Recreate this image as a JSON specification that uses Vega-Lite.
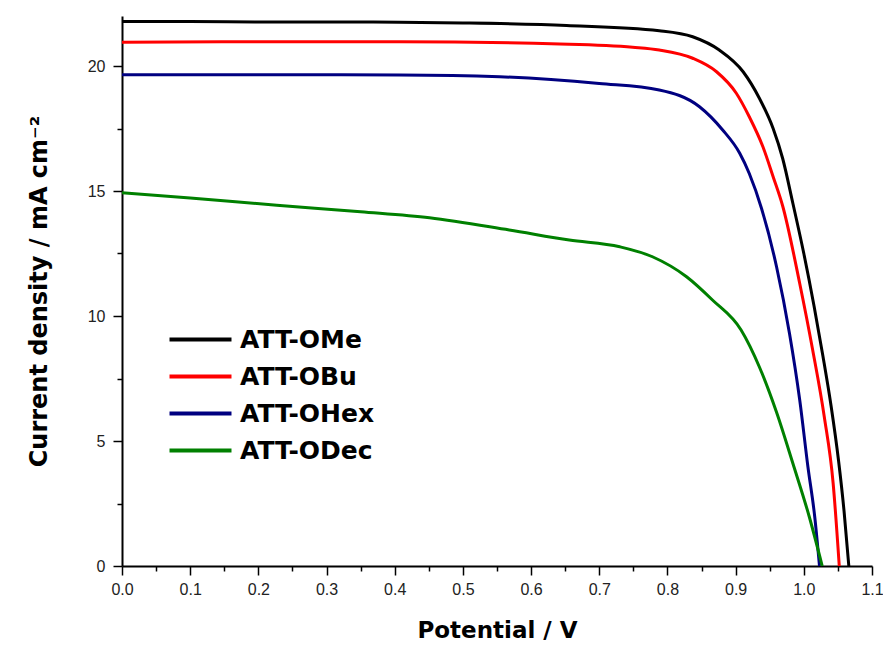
{
  "$schema": "https://vega.github.io/schema/vega-lite/v6.json",
  "width": 750,
  "height": 550,
  "autosize": "none",
  "padding": {"left": 122, "top": 16, "right": 11, "bottom": 84},
  "background": "white",
  "config": {
    "view": {"stroke": null},
    "font": "Liberation Sans",
    "axis": {"grid": false, "labelFlush": false, "labelOverlap": false, "domainColor": "black", "domainWidth": 2, "tickColor": "black", "tickWidth": 1.5, "labelFont": "Liberation Sans", "labelFontSize": 16, "labelColor": "#222", "titleFont": "DejaVu Sans", "titleFontWeight": "bold", "titleColor": "black"}
  },
  "data": {"values": [
    {"V": 0, "J": 21.78, "s": "ATT-OMe"},
    {"V": 0.1, "J": 21.78, "s": "ATT-OMe"},
    {"V": 0.2, "J": 21.76, "s": "ATT-OMe"},
    {"V": 0.3, "J": 21.76, "s": "ATT-OMe"},
    {"V": 0.407, "J": 21.75, "s": "ATT-OMe"},
    {"V": 0.5, "J": 21.72, "s": "ATT-OMe"},
    {"V": 0.652, "J": 21.62, "s": "ATT-OMe"},
    {"V": 0.788, "J": 21.41, "s": "ATT-OMe"},
    {"V": 0.837, "J": 21.17, "s": "ATT-OMe"},
    {"V": 0.876, "J": 20.64, "s": "ATT-OMe"},
    {"V": 0.911, "J": 19.77, "s": "ATT-OMe"},
    {"V": 0.935, "J": 18.7, "s": "ATT-OMe"},
    {"V": 0.955, "J": 17.5, "s": "ATT-OMe"},
    {"V": 0.969, "J": 16.3, "s": "ATT-OMe"},
    {"V": 0.984, "J": 14.5, "s": "ATT-OMe"},
    {"V": 1.0, "J": 12.5, "s": "ATT-OMe"},
    {"V": 1.015, "J": 10.4, "s": "ATT-OMe"},
    {"V": 1.028, "J": 8.4, "s": "ATT-OMe"},
    {"V": 1.04, "J": 6.4, "s": "ATT-OMe"},
    {"V": 1.051, "J": 4.2, "s": "ATT-OMe"},
    {"V": 1.059, "J": 2.2, "s": "ATT-OMe"},
    {"V": 1.066, "J": 0, "s": "ATT-OMe"},
    {"V": 0, "J": 20.95, "s": "ATT-OBu"},
    {"V": 0.2, "J": 20.97, "s": "ATT-OBu"},
    {"V": 0.407, "J": 20.97, "s": "ATT-OBu"},
    {"V": 0.642, "J": 20.88, "s": "ATT-OBu"},
    {"V": 0.749, "J": 20.75, "s": "ATT-OBu"},
    {"V": 0.788, "J": 20.64, "s": "ATT-OBu"},
    {"V": 0.837, "J": 20.31, "s": "ATT-OBu"},
    {"V": 0.872, "J": 19.77, "s": "ATT-OBu"},
    {"V": 0.901, "J": 18.91, "s": "ATT-OBu"},
    {"V": 0.92, "J": 17.97, "s": "ATT-OBu"},
    {"V": 0.94, "J": 16.77, "s": "ATT-OBu"},
    {"V": 0.955, "J": 15.57, "s": "ATT-OBu"},
    {"V": 0.969, "J": 14.4, "s": "ATT-OBu"},
    {"V": 0.994, "J": 11.3, "s": "ATT-OBu"},
    {"V": 1.013, "J": 8.64, "s": "ATT-OBu"},
    {"V": 1.03, "J": 5.97, "s": "ATT-OBu"},
    {"V": 1.043, "J": 3.31, "s": "ATT-OBu"},
    {"V": 1.052, "J": 0, "s": "ATT-OBu"},
    {"V": 0, "J": 19.65, "s": "ATT-OHex"},
    {"V": 0.2, "J": 19.65, "s": "ATT-OHex"},
    {"V": 0.407, "J": 19.64, "s": "ATT-OHex"},
    {"V": 0.554, "J": 19.57, "s": "ATT-OHex"},
    {"V": 0.7, "J": 19.3, "s": "ATT-OHex"},
    {"V": 0.788, "J": 19.04, "s": "ATT-OHex"},
    {"V": 0.847, "J": 18.37, "s": "ATT-OHex"},
    {"V": 0.881, "J": 17.44, "s": "ATT-OHex"},
    {"V": 0.906, "J": 16.51, "s": "ATT-OHex"},
    {"V": 0.92, "J": 15.7, "s": "ATT-OHex"},
    {"V": 0.938, "J": 14.3, "s": "ATT-OHex"},
    {"V": 0.96, "J": 11.97, "s": "ATT-OHex"},
    {"V": 0.979, "J": 9.3, "s": "ATT-OHex"},
    {"V": 0.994, "J": 6.64, "s": "ATT-OHex"},
    {"V": 1.006, "J": 3.97, "s": "ATT-OHex"},
    {"V": 1.016, "J": 1.97, "s": "ATT-OHex"},
    {"V": 1.023, "J": 0, "s": "ATT-OHex"},
    {"V": 0, "J": 14.93, "s": "ATT-ODec"},
    {"V": 0.1, "J": 14.72, "s": "ATT-ODec"},
    {"V": 0.227, "J": 14.43, "s": "ATT-ODec"},
    {"V": 0.35, "J": 14.17, "s": "ATT-ODec"},
    {"V": 0.451, "J": 13.93, "s": "ATT-ODec"},
    {"V": 0.568, "J": 13.44, "s": "ATT-ODec"},
    {"V": 0.656, "J": 13.04, "s": "ATT-ODec"},
    {"V": 0.73, "J": 12.77, "s": "ATT-ODec"},
    {"V": 0.778, "J": 12.37, "s": "ATT-ODec"},
    {"V": 0.828, "J": 11.57, "s": "ATT-ODec"},
    {"V": 0.866, "J": 10.64, "s": "ATT-ODec"},
    {"V": 0.908, "J": 9.44, "s": "ATT-ODec"},
    {"V": 0.935, "J": 7.95, "s": "ATT-ODec"},
    {"V": 0.96, "J": 6.15, "s": "ATT-ODec"},
    {"V": 0.984, "J": 4.1, "s": "ATT-ODec"},
    {"V": 1.008, "J": 1.97, "s": "ATT-ODec"},
    {"V": 1.027, "J": 0, "s": "ATT-ODec"}
  ]},
  "layer": [
    {
      "mark": {"type": "line", "strokeWidth": 3, "strokeOpacity": 0},
      "encoding": {
        "x": {"field": "V", "type": "quantitative", "scale": {"domain": [0, 1.1], "nice": false, "zero": false},
          "axis": {"orient": "bottom", "values": [0.05, 0.15, 0.25, 0.35, 0.45, 0.55, 0.65, 0.75, 0.85, 0.95, 1.05], "labels": false, "domain": false, "tickSize": 5, "title": null}},
        "y": {"field": "J", "type": "quantitative", "scale": {"domain": [0, 22], "nice": false},
          "axis": {"orient": "left", "values": [2.5, 7.5, 12.5, 17.5], "labels": false, "domain": false, "tickSize": 5, "title": null}},
        "detail": {"field": "s"}
      }
    },
    {
      "mark": {"type": "line", "strokeWidth": 3, "interpolate": "monotone"},
      "encoding": {
        "x": {"field": "V", "type": "quantitative", "scale": {"domain": [0, 1.1], "nice": false, "zero": false},
          "axis": {"orient": "bottom", "values": [0, 0.1, 0.2, 0.3, 0.4, 0.5, 0.6, 0.7, 0.8, 0.9, 1.0, 1.1], "format": ".1f", "tickSize": 9, "labelPadding": 6, "title": "Potential / V", "titleFontSize": 23, "titlePadding": 22}},
        "y": {"field": "J", "type": "quantitative", "scale": {"domain": [0, 22], "nice": false},
          "axis": {"orient": "left", "values": [0, 5, 10, 15, 20], "tickSize": 9, "labelPadding": 8, "title": "Current density / mA cm⁻²", "titleFontSize": 24, "titlePadding": 36}},
        "color": {"field": "s", "type": "nominal",
          "scale": {"domain": ["ATT-OMe", "ATT-OBu", "ATT-OHex", "ATT-ODec"], "range": ["#000000", "#ff0000", "#000080", "#008000"]},
          "legend": {"title": null, "orient": "none", "legendX": 45, "legendY": 311, "padding": 0, "symbolType": "M-3,0H3", "symbolSize": 427, "symbolOffset": 21, "symbolStrokeWidth": 4, "labelFont": "DejaVu Sans", "labelFontSize": 25, "labelFontWeight": "bold", "labelColor": "black", "labelOffset": 27, "rowPadding": 11}},
        "order": {"field": "V", "type": "quantitative"}
      }
    }
  ],
  "resolve": {"axis": {"x": "independent", "y": "independent"}}
}
